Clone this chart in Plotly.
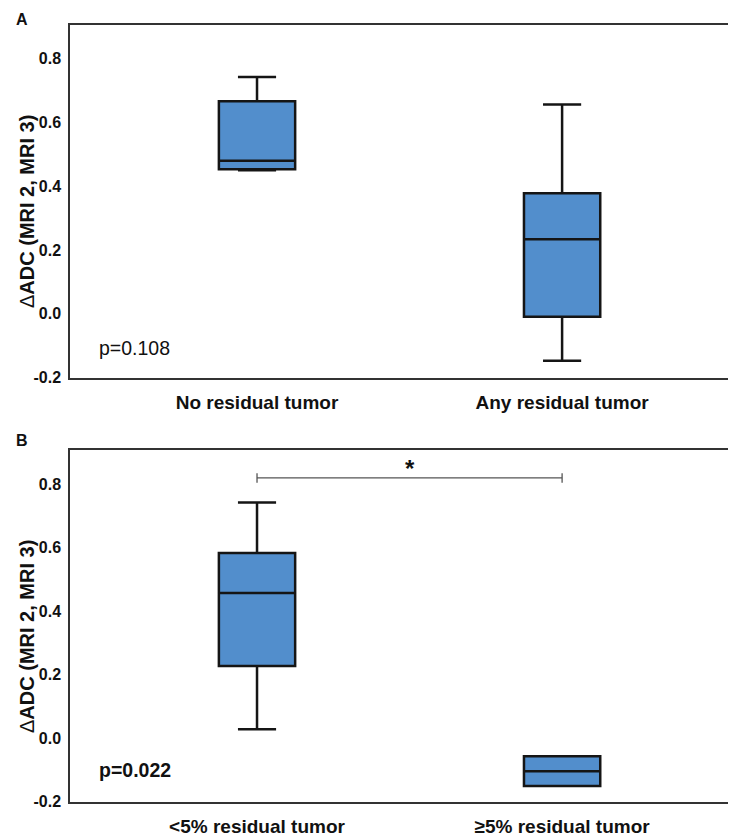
import plotly.graph_objects as go
from plotly.subplots import make_subplots

# ---- data ----
cats_a = ["No residual tumor", "Any residual tumor"]
lower_a = [0.450, -0.147]
q1_a = [0.453, -0.009]
median_a = [0.480, 0.234]
q3_a = [0.666, 0.378]
upper_a = [0.742, 0.656]

cats_b = ["<5% residual tumor", "≥5% residual tumor"]
lower_b = [0.028, -0.151]
q1_b = [0.227, -0.151]
median_b = [0.457, -0.104]
q3_b = [0.583, -0.057]
upper_b = [0.742, -0.057]

p_a = "p=0.108"
p_b = "p=0.022"
bracket_y = 0.819
y_ticks = [-0.2, 0.0, 0.2, 0.4, 0.6, 0.8]
y_ticktext = ["-0.2", "0.0", "0.2", "0.4", "0.6", "0.8"]

FONT = "Liberation Sans, Arial, sans-serif"
BOX_FILL = "#528ECC"
EDGE = "#151515"
TXT = "#111111"

fig = make_subplots(rows=2, cols=1, vertical_spacing=0.0)

def add_boxes(row, cats, lo, q1, med, q3, hi):
    fig.add_trace(go.Box(
        x=cats, q1=q1, median=med, q3=q3, lowerfence=lo, upperfence=hi,
        fillcolor=BOX_FILL, line=dict(color=EDGE, width=2.5),
        width=0.25, whiskerwidth=0.5, boxpoints=False, showlegend=False,
        hoverinfo="skip"), row=row, col=1)

add_boxes(1, cats_a, lower_a, q1_a, median_a, q3_a, upper_a)
add_boxes(2, cats_b, lower_b, q1_b, median_b, q3_b, upper_b)

# significance bracket in panel B
cap = 0.015
fig.add_trace(go.Scatter(
    x=[cats_b[0], cats_b[0], None, cats_b[0], cats_b[1], None, cats_b[1], cats_b[1]],
    y=[bracket_y - cap, bracket_y + cap, None, bracket_y, bracket_y, None,
       bracket_y - cap, bracket_y + cap],
    mode="lines", line=dict(color="#555555", width=1.3),
    showlegend=False, hoverinfo="skip"), row=2, col=1)

# layout (page body has an 8px margin; work in reference pixels and shift)
OFF = 8
H, W = 837 - OFF, 736 - OFF
mt = 25 - OFF
ml = 70 - OFF
mr = 0
mb = H - (802 - OFF)
ph = H - mt - mb
pw = W - ml - mr

def px_x(px):
    return (px - OFF - ml) / pw
def px_y(py):
    return (H - mb - (py - OFF)) / ph

dom_a = [px_y(378), 1.0]
dom_b = [0.0, px_y(450)]

xcommon = dict(type="category", range=[-0.613, 1.570], showline=True, mirror=True,
               linecolor="#333333", linewidth=1.5, ticks="", showgrid=False,
               zeroline=False, ticklabelstandoff=6,
               tickfont=dict(family=FONT, size=19, color=TXT, weight="bold"))
ycommon = dict(range=[-0.201, 0.905], showline=True, mirror=False,
               linecolor="#333333", linewidth=1.5, ticks="", showgrid=False,
               zeroline=False, tickvals=y_ticks, ticktext=y_ticktext,
               ticklabelstandoff=4,
               tickfont=dict(family=FONT, size=16, color=TXT, weight="bold"))

fig.update_layout(
    width=W, height=H, margin=dict(t=mt, b=mb, l=ml, r=mr, autoexpand=False),
    paper_bgcolor="white", plot_bgcolor="white",
    font=dict(family=FONT, color=TXT),
    xaxis=dict(**xcommon, anchor="y"),
    xaxis2=dict(**xcommon, anchor="y2"),
    yaxis=dict(**ycommon, domain=dom_a, anchor="x"),
    yaxis2=dict(**{**ycommon, "range": [-0.201, 0.907]}, domain=dom_b, anchor="x2"),
)

ann = []
def add_ann(**kw):
    base = dict(showarrow=False, xanchor="center", yanchor="middle")
    base.update(kw)
    ann.append(base)

add_ann(text="<b>A</b>", x=px_x(22), y=px_y(19), xref="paper", yref="paper",
        font=dict(size=16, family=FONT, color=TXT))
add_ann(text="<b>B</b>", x=px_x(22), y=px_y(440), xref="paper", yref="paper",
        font=dict(size=16, family=FONT, color=TXT))
ytitle = "Δ<b>ADC (MRI 2, MRI 3)</b>"
add_ann(text=ytitle, x=px_x(27), y=px_y(212), xref="paper", yref="paper",
        textangle=-90, font=dict(size=20, family=FONT, color=TXT))
add_ann(text=ytitle, x=px_x(27), y=px_y(637), xref="paper", yref="paper",
        textangle=-90, font=dict(size=20, family=FONT, color=TXT))
add_ann(text=p_a, x=px_x(97), y=-0.106, xref="paper", yref="y", xanchor="left",
        font=dict(size=19.5, family=FONT, color=TXT))
add_ann(text="<b>" + p_b + "</b>", x=px_x(97), y=-0.10, xref="paper", yref="y2",
        xanchor="left", font=dict(size=19.5, family=FONT, color=TXT))
add_ann(text="<b>*</b>", x=0.5, y=bracket_y + 0.03, xref="x2", yref="y2",
        font=dict(size=24, family=FONT, color=TXT))
fig.update_layout(annotations=ann)

fig.write_html("out.html")
